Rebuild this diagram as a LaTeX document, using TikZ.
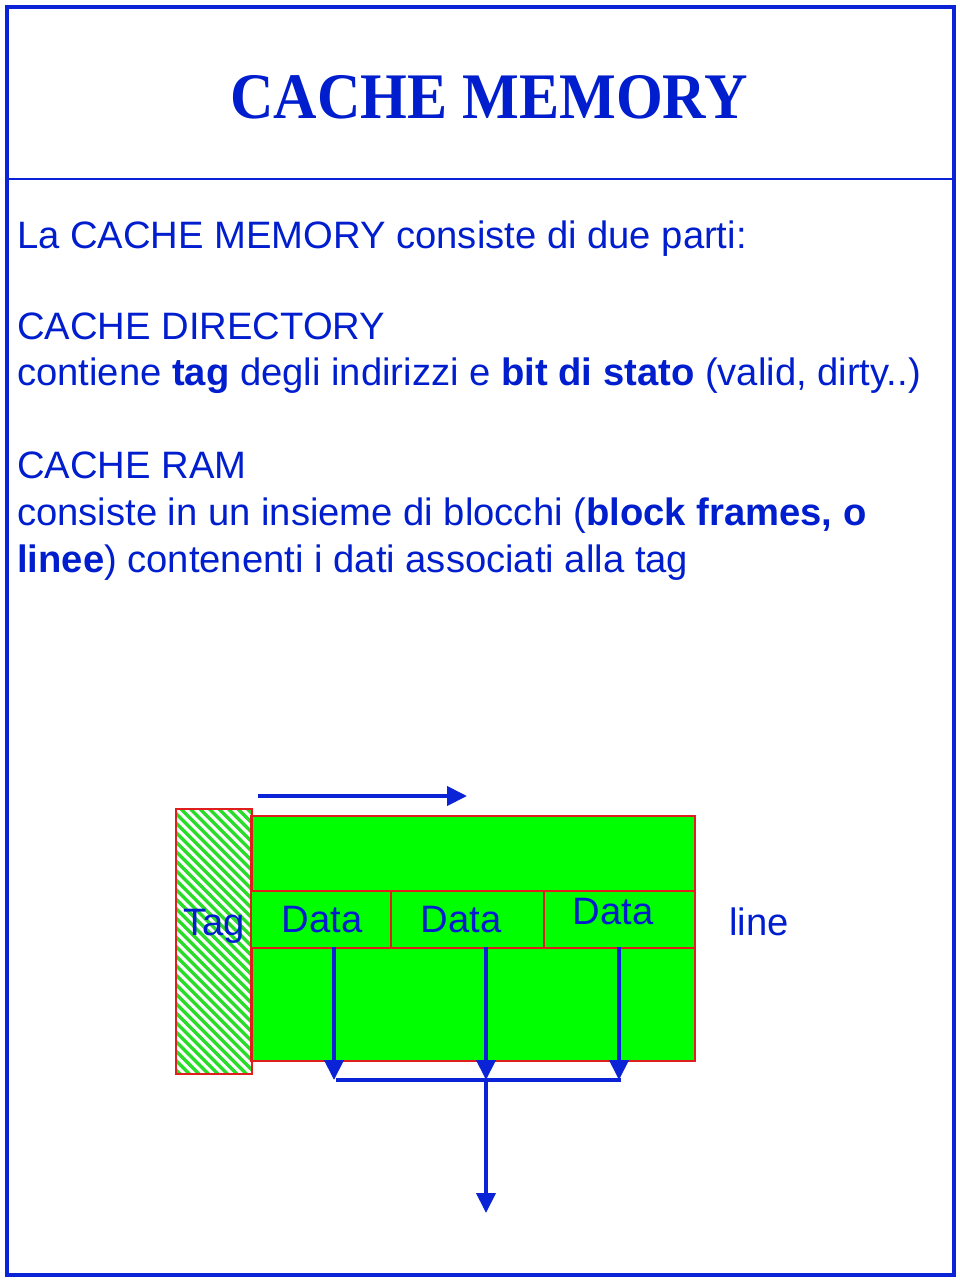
\documentclass[tikz,border=0pt]{standalone}
\usepackage{fontspec}
\usepackage{graphicx}
\setmainfont{Liberation Sans}
\newfontfamily\titlefont{Liberation Serif}
\usetikzlibrary{arrows.meta}
\definecolor{txtblue}{RGB}{0,30,205}
\definecolor{bordblue}{RGB}{10,35,215}
\definecolor{boxred}{RGB}{225,30,30}
\definecolor{ramgreen}{RGB}{0,255,0}
\definecolor{hatchgreen}{RGB}{40,220,40}
\begin{document}
\begin{tikzpicture}[x=1pt,y=-1pt,
  body/.style={anchor=base west,inner sep=0,text=txtblue,font=\fontsize{38.2}{46}\selectfont},
  lbl/.style={anchor=base,inner sep=0,text=txtblue,font=\fontsize{38.2}{46}\selectfont},
  cell/.style={draw=boxred,line width=2pt,fill=ramgreen,inner sep=0,anchor=north west},
  bluearrow/.style={draw=bordblue,line width=4pt,-{Triangle[length=20pt,width=19pt]}},
  busline/.style={draw=bordblue,line width=4pt}]
\useasboundingbox (0,0) rectangle (960,1280);
% frame
\draw[bordblue,line width=4pt] (7,7) rectangle (954,1275);
\draw[bordblue,line width=2pt] (7,179) -- (954,179);
% title
\node[anchor=base,inner sep=0,text=txtblue] (title) at (489,118)
  {\titlefont\bfseries\fontsize{65}{65}\selectfont\scalebox{0.925}[1]{CACHE MEMORY}};
% body text
\node[body] (l1) at (17,248) {La CACHE MEMORY consiste di due parti:};
\node[body] (l2) at (17,339) {CACHE DIRECTORY};
\node[body] (l3) at (17,385) {contiene \textbf{tag} degli indirizzi e \textbf{bit di stato} (valid, dirty..)};
\node[body] (l4) at (17,478) {CACHE RAM};
\node[body] (l5) at (17,525) {consiste in un insieme di blocchi (\textbf{block frames, o}};
\node[body] (l6) at (17,572) {\textbf{linee}) contenenti i dati associati alla tag};
% tag hatch
\begin{scope}
  \clip (175,808) rectangle (251,1073);
  \foreach \i in {-280,-270.5,...,80}
    \draw[hatchgreen,line width=3.4pt] (175+\i,808) -- ++(300,300);
\end{scope}
% RAM block
\node[cell,minimum width=444pt,minimum height=245pt] (ram) at (250,815) {};
\node[draw=boxred,line width=2pt,inner sep=0,anchor=north west,minimum width=76pt,minimum height=265pt] (tagbox) at (175,808) {};
\node[cell,minimum width=140pt,minimum height=57pt] (d1) at (250,890) {};
\node[cell,minimum width=153pt,minimum height=57pt] (d2) at (390,890) {};
\node[cell,minimum width=151pt,minimum height=57pt] (d3) at (543,890) {};
% labels
\node[lbl] (tagtxt) at (214,935) {Tag};
\node[lbl] (dt1) at (322,932) {Data};
\node[lbl] (dt2) at (461,932) {Data};
\node[lbl] (dt3) at (613,924) {Data};
\node[lbl] (linetxt) at (759,935) {line};
% arrows
\coordinate (a1) at (258,796);
\coordinate (a2) at (467,796);
\draw[bluearrow] (a1) -- (a2);
\coordinate (v1s) at (334,947);
\coordinate (v2s) at (486,947);
\coordinate (v3s) at (619,947);
\coordinate (v1e) at (334,1080);
\coordinate (v2e) at (486,1080);
\coordinate (v3e) at (619,1080);
\coordinate (b1) at (336,1080);
\coordinate (b2) at (621,1080);
\coordinate (outp) at (486,1213);
\draw[busline] (b1) -- (b2);
\draw[bluearrow] (v2e) -- (outp);
\draw[bluearrow] (v1s) -- (v1e);
\draw[bluearrow] (v2s) -- (v2e);
\draw[bluearrow] (v3s) -- (v3e);
\end{tikzpicture}
\end{document}
